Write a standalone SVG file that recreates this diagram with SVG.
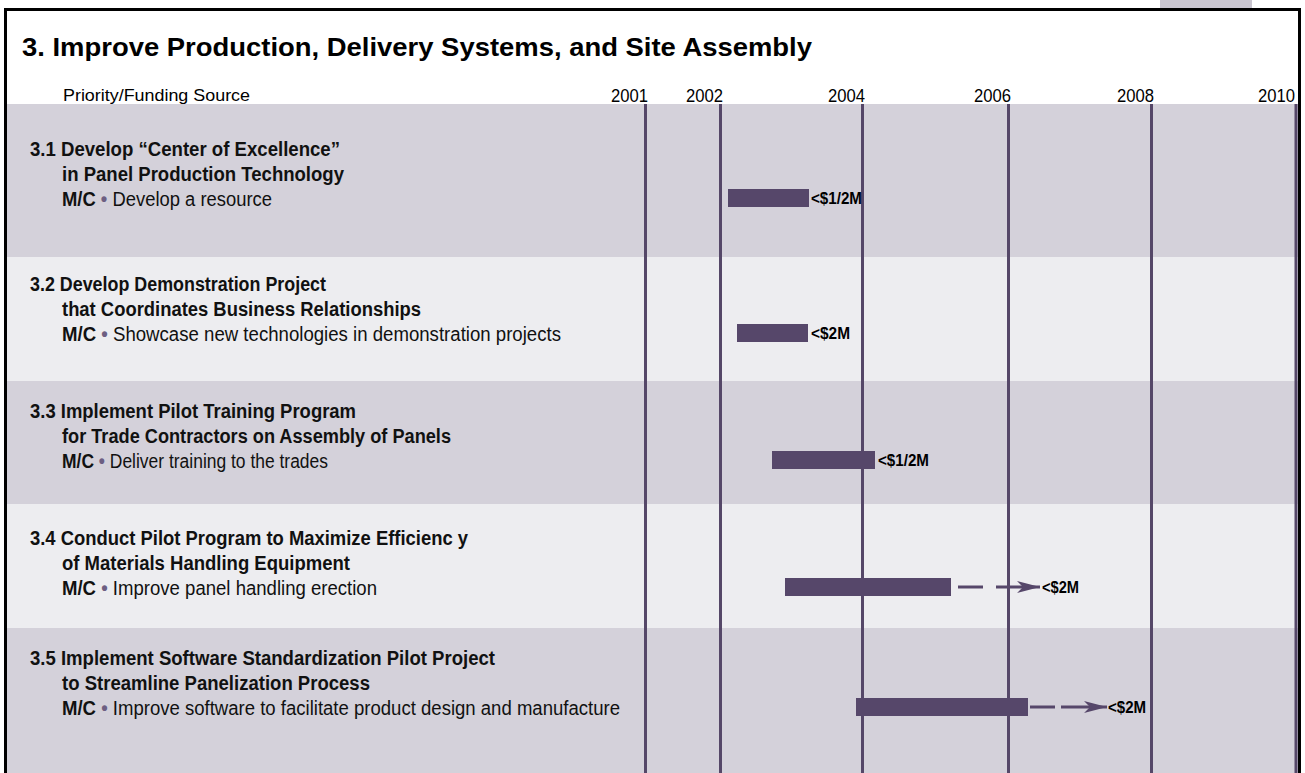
<svg xmlns="http://www.w3.org/2000/svg" width="1305" height="773" viewBox="0 0 1305 773">
<style>
.bg{fill:#fff}
.rowA{fill:#d4d1da}
.rowB{fill:#ededf0}
.vline{stroke:#554768;stroke-width:3}
.bar{fill:#56476a}
.dash{stroke:#56476a;stroke-width:3;fill:none}
.title{font-family:"Liberation Sans",Arial,sans-serif;font-weight:bold;font-size:26px;fill:#000}
.hdr{font-family:"Liberation Sans Narrow","Liberation Sans",Arial,sans-serif;font-size:17px;fill:#000}
.yr{font-family:"Liberation Sans Narrow","Liberation Sans",Arial,sans-serif;font-size:18px;fill:#000}
.t{font-family:"Liberation Sans Narrow","Liberation Sans",Arial,sans-serif;font-size:20px;fill:#111}
.b{font-weight:bold}
.dot{fill:#6d5f82;font-weight:bold}
.cost{font-family:"Liberation Sans Narrow","Liberation Sans",Arial,sans-serif;font-weight:bold;font-size:16px;fill:#000}
</style>
<defs>
<marker id="arr" markerUnits="userSpaceOnUse" markerWidth="24" markerHeight="14" refX="23" refY="7" orient="auto">
<path d="M0,1 L23,7 L0,13 L6,7 Z" fill="#56476a"/>
</marker>
</defs>
<rect class="bg" x="0" y="0" width="1305" height="773"/>
<rect x="1160" y="0" width="92" height="8" fill="#c9c5d0"/>
<g id="rows">
<rect class="rowA" x="7" y="104" width="1291" height="153"/>
<rect class="rowB" x="7" y="257" width="1291" height="124"/>
<rect class="rowA" x="7" y="381" width="1291" height="123"/>
<rect class="rowB" x="7" y="504" width="1291" height="124"/>
<rect class="rowA" x="7" y="628" width="1291" height="145"/>
</g>
<path d="M5.5,773 V9.5 H1299.5 V773" fill="none" stroke="#000" stroke-width="3"/>
<text class="title" x="22" y="56" textLength="790" lengthAdjust="spacingAndGlyphs">3. Improve Production, Delivery Systems, and Site Assembly</text>
<g id="axis">
<text class="hdr" x="63" y="101" textLength="187" lengthAdjust="spacingAndGlyphs">Priority/Funding Source</text>
<text class="yr" x="611" y="102" textLength="37" lengthAdjust="spacingAndGlyphs">2001</text>
<text class="yr" x="686" y="102" textLength="37" lengthAdjust="spacingAndGlyphs">2002</text>
<text class="yr" x="828" y="102" textLength="37" lengthAdjust="spacingAndGlyphs">2004</text>
<text class="yr" x="974" y="102" textLength="37" lengthAdjust="spacingAndGlyphs">2006</text>
<text class="yr" x="1117" y="102" textLength="37" lengthAdjust="spacingAndGlyphs">2008</text>
<text class="yr" x="1258" y="102" textLength="37" lengthAdjust="spacingAndGlyphs">2010</text>
<line class="vline" x1="645.5" y1="104" x2="645.5" y2="773"/>
<line class="vline" x1="720.5" y1="104" x2="720.5" y2="773"/>
<line class="vline" x1="862.5" y1="104" x2="862.5" y2="773"/>
<line class="vline" x1="1008.5" y1="104" x2="1008.5" y2="773"/>
<line class="vline" x1="1151.5" y1="104" x2="1151.5" y2="773"/>
<line class="vline" x1="1296" y1="104" x2="1296" y2="773"/>
</g>
<g id="task31">
<text class="t b" x="30" y="156" textLength="310" lengthAdjust="spacingAndGlyphs">3.1 Develop “Center of Excellence”</text>
<text class="t b" x="62" y="181" textLength="282" lengthAdjust="spacingAndGlyphs">in Panel Production Technology</text>
<text class="t" x="62" y="206" textLength="210" lengthAdjust="spacingAndGlyphs"><tspan class="b">M/C</tspan> <tspan class="dot">•</tspan> Develop a resource</text>
<rect class="bar" x="728" y="189" width="81" height="18"/>
<text class="cost" x="811" y="204" textLength="51" lengthAdjust="spacingAndGlyphs">&lt;$1/2M</text>
</g>
<g id="task32">
<text class="t b" x="30" y="291" textLength="296" lengthAdjust="spacingAndGlyphs">3.2 Develop Demonstration Project</text>
<text class="t b" x="62" y="316" textLength="359" lengthAdjust="spacingAndGlyphs">that Coordinates Business Relationships</text>
<text class="t" x="62" y="341" textLength="499" lengthAdjust="spacingAndGlyphs"><tspan class="b">M/C</tspan> <tspan class="dot">•</tspan> Showcase new technologies in demonstration projects</text>
<rect class="bar" x="737" y="324" width="71" height="18"/>
<text class="cost" x="811" y="339" textLength="39" lengthAdjust="spacingAndGlyphs">&lt;$2M</text>
</g>
<g id="task33">
<text class="t b" x="30" y="418" textLength="326" lengthAdjust="spacingAndGlyphs">3.3 Implement Pilot Training Program</text>
<text class="t b" x="62" y="443" textLength="389" lengthAdjust="spacingAndGlyphs">for Trade Contractors on Assembly of Panels</text>
<text class="t" x="62" y="468" textLength="266" lengthAdjust="spacingAndGlyphs"><tspan class="b">M/C</tspan> <tspan class="dot">•</tspan> Deliver training to the trades</text>
<rect class="bar" x="772" y="451" width="103" height="18"/>
<text class="cost" x="878" y="466" textLength="51" lengthAdjust="spacingAndGlyphs">&lt;$1/2M</text>
</g>
<g id="task34">
<text class="t b" x="30" y="545" textLength="438" lengthAdjust="spacingAndGlyphs">3.4 Conduct Pilot Program to Maximize Efficienc y</text>
<text class="t b" x="62" y="570" textLength="288" lengthAdjust="spacingAndGlyphs">of Materials Handling Equipment</text>
<text class="t" x="62" y="595" textLength="315" lengthAdjust="spacingAndGlyphs"><tspan class="b">M/C</tspan> <tspan class="dot">•</tspan> Improve panel handling erection</text>
<rect class="bar" x="785" y="578" width="166" height="18"/>
<text class="cost" x="1042" y="593" textLength="37" lengthAdjust="spacingAndGlyphs">&lt;$2M</text>
</g>
<g id="task35">
<text class="t b" x="30" y="665" textLength="465" lengthAdjust="spacingAndGlyphs">3.5 Implement Software Standardization Pilot Project</text>
<text class="t b" x="62" y="690" textLength="308" lengthAdjust="spacingAndGlyphs">to Streamline Panelization Process</text>
<text class="t" x="62" y="715" textLength="558" lengthAdjust="spacingAndGlyphs"><tspan class="b">M/C</tspan> <tspan class="dot">•</tspan> Improve software to facilitate product design and manufacture</text>
<rect class="bar" x="856" y="698" width="172" height="18"/>
<text class="cost" x="1108" y="713" textLength="38" lengthAdjust="spacingAndGlyphs">&lt;$2M</text>
</g>
<g id="connectors">
<line class="dash" x1="958" y1="587" x2="983" y2="587"/>
<line class="dash" x1="996" y1="587" x2="1040" y2="587" marker-end="url(#arr)"/>
<line class="dash" x1="1030" y1="707" x2="1055" y2="707"/>
<line class="dash" x1="1061" y1="707" x2="1107" y2="707" marker-end="url(#arr)"/>
</g>
</svg>
